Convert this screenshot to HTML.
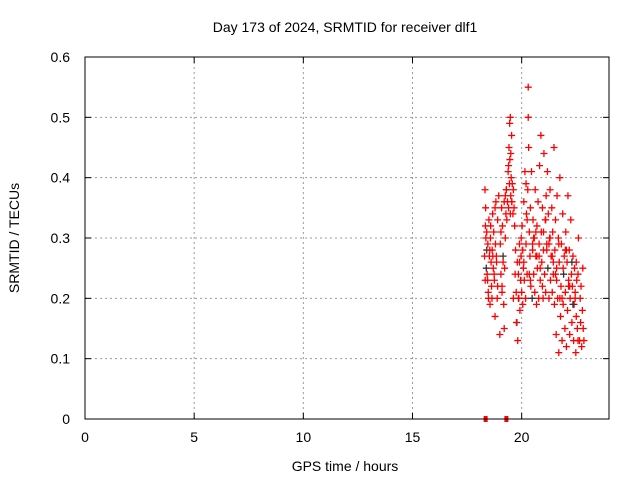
<!DOCTYPE html>
<html><head><meta charset="utf-8"><style>
body{margin:0;background:#fff}
svg{display:block;font-family:"Liberation Sans",sans-serif}
</style></head><body>
<svg id="chart" width="640" height="480">
<text x="345" y="32" font-size="14" text-anchor="middle">Day 173 of 2024, SRMTID for receiver dlf1</text>
<text x="345" y="471" font-size="14" text-anchor="middle">GPS time / hours</text>
<text transform="translate(19,238) rotate(-90)" font-size="14" text-anchor="middle">SRMTID / TECUs</text>
<g id="grid"></g><g id="axes"></g><g id="marks"></g>
<rect x="85" y="57" width="524" height="362" fill="none" stroke="#000" stroke-width="1"/>
</svg>
<script>
const xTicks=[0,5,10,15,20];
const yTicks=[0,0.1,0.2,0.3,0.4,0.5,0.6];
const yTickLabels=["0","0.1","0.2","0.3","0.4","0.5","0.6"];
const hours=[18.3,18.32,18.35,18.36,18.38,18.4,18.42,18.45,18.47,18.5,18.52,18.55,18.57,18.6,18.62,18.65,18.67,18.7,18.72,18.75,18.78,18.8,18.82,18.85,18.88,18.9,
18.95,19.0,19.02,19.05,19.08,19.1,19.12,19.15,19.18,19.2,19.2,19.22,19.25,19.28,19.3,19.32,19.35,19.38,19.4,19.42,19.44,19.45,19.46,19.48,19.5,19.5,19.52,19.54,19.55,19.57,19.6,19.62,19.65,19.68,
19.72,19.75,19.78,19.8,19.82,19.85,19.87,19.9,19.92,19.95,19.97,20.0,20.02,20.05,20.08,20.1,20.12,20.15,20.18,20.2,20.22,20.25,20.28,20.3,20.3,20.32,20.35,20.38,20.4,20.42,20.45,20.48,20.5,
20.52,20.55,20.58,20.6,20.62,20.65,20.68,20.7,20.72,20.75,20.78,20.8,20.82,20.85,20.88,20.9,20.92,20.95,20.98,21.0,21.02,21.05,21.08,21.1,21.12,21.15,21.18,21.2,21.22,21.25,21.28,21.3,21.32,21.35,21.38,21.4,21.42,21.45,21.48,
21.5,21.52,21.55,21.58,21.6,21.62,21.65,21.68,21.7,21.72,21.75,21.78,21.8,21.82,21.85,21.88,21.9,21.92,21.95,21.98,22.0,22.02,22.05,22.08,22.1,22.12,22.15,22.18,22.2,22.22,22.25,22.28,22.3,22.32,22.35,22.38,22.4,22.42,22.45,22.48,22.5,22.52,22.55,22.58,22.6,
18.33,18.4,18.48,18.58,18.68,18.78,18.9,19.05,19.15,19.25,19.4,19.55,19.7,19.85,19.98,20.1,20.25,20.4,20.55,20.7,20.85,21.0,21.15,21.3,21.45,21.6,21.75,21.9,22.05,22.2,22.35,22.5,
18.34,18.44,18.54,18.64,18.74,18.84,19.1,19.3,19.48,19.62,19.76,19.9,20.05,20.2,20.35,20.5,20.65,20.8,20.95,21.1,21.25,21.4,21.55,21.7,21.85,22.0,22.15,22.3,22.45,22.58,
22.65,22.68,22.7,22.72,22.75,22.78,22.8,22.82,22.85,22.88];
const values=[0.27,0.38,0.35,0.3,0.25,0.31,0.24,0.29,0.21,0.33,0.27,0.19,0.3,0.26,0.22,0.28,0.34,0.25,0.31,0.23,0.17,0.29,0.36,0.26,0.2,0.33,
0.37,0.14,0.29,0.24,0.35,0.21,0.32,0.27,0.19,0.36,0.15,0.25,0.3,0.34,0.38,0.33,0.36,0.41,0.35,0.45,0.39,0.49,0.43,0.5,0.37,0.44,0.4,0.47,0.36,0.39,0.34,0.38,0.35,0.32,
0.28,0.21,0.16,0.26,0.13,0.24,0.2,0.29,0.18,0.23,0.27,0.21,0.32,0.19,0.25,0.36,0.23,0.41,0.2,0.29,0.34,0.24,0.38,0.55,0.5,0.45,0.31,0.27,0.35,0.22,0.41,0.2,0.28,
0.33,0.24,0.3,0.21,0.38,0.27,0.19,0.32,0.25,0.36,0.2,0.29,0.42,0.23,0.47,0.31,0.26,0.35,0.2,0.28,0.44,0.24,0.33,0.21,0.37,0.29,0.41,0.25,0.34,0.2,0.3,0.38,0.23,0.27,0.35,0.21,0.31,0.24,
0.45,0.19,0.28,0.33,0.14,0.25,0.37,0.2,0.3,0.11,0.26,0.4,0.17,0.22,0.29,0.13,0.34,0.19,0.24,0.27,0.15,0.21,0.31,0.12,0.26,0.18,0.37,0.23,0.28,0.14,0.2,0.33,0.24,0.16,0.22,0.27,0.13,0.19,0.25,0.21,0.11,0.17,0.23,0.15,0.13,
0.3,0.23,0.28,0.2,0.32,0.27,0.35,0.22,0.31,0.26,0.37,0.42,0.36,0.24,0.2,0.3,0.26,0.33,0.23,0.3,0.27,0.25,0.31,0.28,0.3,0.26,0.23,0.2,0.25,0.28,0.22,0.19,
0.26,0.32,0.23,0.28,0.2,0.24,0.27,0.22,0.38,0.34,0.2,0.16,0.26,0.28,0.39,0.24,0.29,0.31,0.27,0.22,0.33,0.29,0.27,0.24,0.29,0.2,0.28,0.22,0.26,0.2,
0.24,0.13,0.2,0.16,0.22,0.12,0.18,0.25,0.15,0.13];
const zeroHours=[18.35,19.3];
const X0=85,X1=609,Y0=419,Y1=57,XMAX=24,YMAX=0.6;
const sx=h=>X0+h/XMAX*(X1-X0);
const sy=v=>Y0-v/YMAX*(Y0-Y1);
const NS='http://www.w3.org/2000/svg';
const grid=document.getElementById('grid'),axes=document.getElementById('axes'),marks=document.getElementById('marks');
function mk(t,a){const e=document.createElementNS(NS,t);for(const k in a)e.setAttribute(k,a[k]);return e;}
xTicks.forEach(t=>{const x=sx(t);
 if(t>0){const g=mk('line',{x1:x,x2:x,y1:Y0,y2:Y1,stroke:'#999','stroke-dasharray':'2,3'});
 
 grid.appendChild(g);}
 axes.appendChild(mk('line',{x1:x,x2:x,y1:Y0,y2:Y0-6,stroke:'#000'}));
 axes.appendChild(mk('line',{x1:x,x2:x,y1:Y1,y2:Y1+6,stroke:'#000'}));
 const l=mk('text',{x:x,y:Y0+23,'font-size':14,'text-anchor':'middle'});l.textContent=t;
 
 axes.appendChild(l);});
yTicks.forEach((t,i)=>{const y=sy(t);
 if(t>0&&t<YMAX){const g=mk('line',{x1:X0,x2:X1,y1:y,y2:y,stroke:'#999','stroke-dasharray':'2,3'});
 
 grid.appendChild(g);}
 axes.appendChild(mk('line',{x1:X0,x2:X0+6,y1:y,y2:y,stroke:'#000'}));
 axes.appendChild(mk('line',{x1:X1,x2:X1-6,y1:y,y2:y,stroke:'#000'}));
 const l=mk('text',{x:X0-15,y:y+5,'font-size':14,'text-anchor':'end'});l.textContent=yTickLabels[i];
 
 axes.appendChild(l);});
hours.forEach((h,i)=>{const x=sx(h),y=sy(values[i]);
 const p=mk('path',{d:`M${x-3.5},${y}h7M${x},${y-3.5}v7`,stroke:i%29==4?'#333':'#f00','stroke-width':1.3,fill:'none'});
 
 marks.appendChild(p);});
zeroHours.forEach(h=>{const r=mk('rect',{x:sx(h)-2,y:Y0-3,width:4,height:6,fill:'#f00'});
 
 marks.appendChild(r);});
</script>
</body></html>
